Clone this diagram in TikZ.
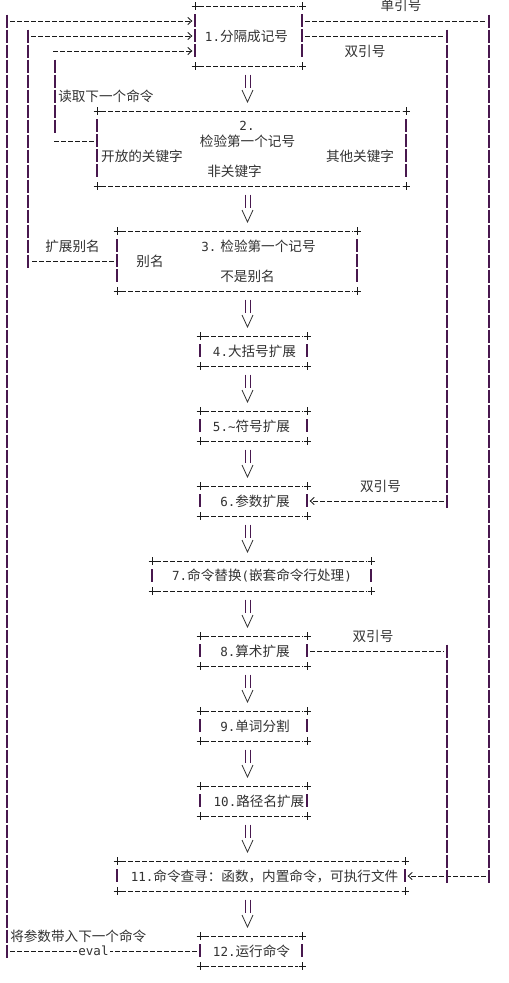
\documentclass[tikz,border=0pt]{standalone}
\usepackage{fontspec}
\setmainfont{Noto Sans CJK SC}
\newfontfamily\mono{DejaVu Sans Mono}
\usetikzlibrary{calc,arrows.meta}
\definecolor{vcol}{RGB}{72,24,78}
\definecolor{hcol}{RGB}{25,25,25}
\definecolor{tcol}{RGB}{50,50,50}
\newcommand\m[1]{{\fontsize{9.4pt}{12pt}\selectfont\mono #1}}
\tikzset{
 hd/.style={draw=hcol, line width=0.65pt, dash pattern=on 3.6pt off 1.65pt},
 vb/.style={draw=vcol, line width=0.85pt, dash pattern=on 9.75pt off 1.5pt},
 tip/.style={-{Straight Barb[length=3pt,width=5.5pt,line width=0.65pt]}, shorten >=2pt},
 pl/.style={draw=hcol, line width=0.65pt},
 vv/.style={draw=tcol, line width=0.6pt},
 bars/.style={draw=vcol, line width=0.75pt},
 boxn/.style={inner sep=0pt, outer sep=0pt, draw=none},
 lbl/.style={inner sep=0pt, text=tcol, font=\fontsize{10.2pt}{12pt}\selectfont},
}
\newcommand\abox[5]{%
 \node[boxn, minimum width={(#3-#2)*0.75pt}, minimum height={15*(#5-#4)*0.75pt}] (#1) at ({(#2+#3)/2},{6+7.5*(#4+#5)}) {};
 \draw[hd] ($(#1.north west)+(4,0)$) -- ($(#1.north east)+(-4,0)$);
 \draw[hd] ($(#1.south west)+(4,0)$) -- ($(#1.south east)+(-4,0)$);
 \draw[vb] ($(#1.north west)+(0,8)$) -- ($(#1.south west)+(0,-8)$);
 \draw[vb] ($(#1.north east)+(0,8)$) -- ($(#1.south east)+(0,-8)$);
 \foreach \cn in {north west,north east,south west,south east} {\draw[pl] (#1.\cn) +(-3.5,0) -- +(3.5,0) +(0,-4) -- +(0,4);}
}
\newcommand\vlink[2]{%
 \draw[bars] ($(#1.south -| AX)+(-2.5,8.5)$) -- ++(0,13) ($(#1.south -| AX)+(2.5,8.5)$) -- ++(0,13);
 \draw[vv] ($(#2.north -| AX)+(-5.5,-21)$) -- ($(#2.north -| AX)+(0,-9)$) -- ($(#2.north -| AX)+(5.5,-21)$);
}
\begin{document}
\begin{tikzpicture}[x=0.75pt,y=-0.75pt]
\useasboundingbox[fill=white] (0,0) rectangle (508,983);
\foreach \r in {0,...,64} {\coordinate (R\r) at (0,{6+15*\r});}
\coordinate (AX) at (247.5,0);
\coordinate (X7) at (7,0);
\coordinate (X28) at (28,0);
\coordinate (X55) at (55,0);
\coordinate (X447) at (447,0);
\coordinate (X489) at (489,0);
% boxes
\abox{b1}{195}{302}{0}{4}
\abox{b2}{97}{406}{7}{12}
\abox{b3}{117}{357}{15}{19}
\abox{b4}{200}{307}{22}{24}
\abox{b5}{200}{307}{27}{29}
\abox{b6}{200}{307}{32}{34}
\abox{b7}{152}{371}{37}{39}
\abox{b8}{200}{307}{42}{44}
\abox{b9}{200}{307}{47}{49}
\abox{b10}{200}{307}{52}{54}
\abox{b11}{117}{405}{57}{59}
\abox{b12}{200}{302}{62}{64}
% down links
\vlink{b1}{b2}
\vlink{b2}{b3}
\vlink{b3}{b4}
\vlink{b4}{b5}
\vlink{b5}{b6}
\vlink{b6}{b7}
\vlink{b7}{b8}
\vlink{b8}{b9}
\vlink{b9}{b10}
\vlink{b10}{b11}
\vlink{b11}{b12}
% left loops
\draw[hd,shorten <=2.5pt,shorten >=2.5pt] (b12.west |- R63) -- (X7 |- R63);
\draw[vb] ($(X7 |- R1)+(0,-6.5)$) -- ($(X7 |- R63)+(0,6.5)$);
\draw[hd,tip,shorten <=2.5pt] (X7 |- R1) -- (b1.west |- R1);
\draw[hd,shorten <=2.5pt,shorten >=2.5pt] (b3.west |- R17) -- (X28 |- R17);
\draw[vb] ($(X28 |- R2)+(0,-6.5)$) -- ($(X28 |- R17)+(0,6.5)$);
\draw[hd,tip,shorten <=2.5pt] (X28 |- R2) -- (b1.west |- R2);
\draw[hd,shorten <=2.5pt] (b2.west |- R9) -- ($(X55 |- R9)+(-1,0)$);
\draw[vb] ($(X55 |- R4)+(0,-6.5)$) -- ($(X55 |- R8)+(0,6.5)$);
\draw[hd,tip] ($(X55 |- R3)+(-2,0)$) -- (b1.west |- R3);
% right loops
\draw[hd,shorten <=2.5pt,shorten >=2.5pt] (b1.east |- R1) -- (X489 |- R1);
\draw[vb] ($(X489 |- R1)+(0,-6.5)$) -- ($(X489 |- R58)+(0,6.5)$);
\draw[hd,tip,shorten <=2.5pt] (X489 |- R58) -- (b11.east |- R58);
\draw[hd,shorten <=2.5pt,shorten >=2.5pt] (b1.east |- R2) -- (X447 |- R2);
\draw[vb] ($(X447 |- R2)+(0,-6.5)$) -- ($(X447 |- R33)+(0,6.5)$);
\draw[hd,tip,shorten <=2.5pt] (X447 |- R33) -- (b6.east |- R33);
\draw[hd,shorten <=2.5pt,shorten >=2.5pt] (b8.east |- R43) -- (X447 |- R43);
\draw[vb] ($(X447 |- R43)+(0,-6.5)$) -- ($(X447 |- R58)+(0,6.5)$);
% labels
\node[lbl] (l1) at (401,5) {单引号};
\node[lbl] (l2) at (365,51) {双引号};
\node[lbl,anchor=west] (l3) at (58,96) {读取下一个命令};
\node[lbl] (t1) at (246.5,36) {\m{1.}分隔成记号};
\node[lbl] (t2a) at (247,126) {\m{2.}};
\node[lbl] (t2b) at (247.5,141) {检验第一个记号};
\node[lbl] (t2c) at (142,156) {开放的关键字};
\node[lbl] (t2d) at (360,156) {其他关键字};
\node[lbl] (t2e) at (234.5,171) {非关键字};
\node[lbl] (l4) at (72.5,246) {扩展别名};
\node[lbl] (t3a) at (258.5,246) {\m{3.}\hspace{3pt}检验第一个记号};
\node[lbl] (t3b) at (150,261) {别名};
\node[lbl] (t3c) at (247.5,276) {不是别名};
\node[lbl] (t4) at (254.5,351) {\m{4.}大括号扩展};
\node[lbl] (t5) at (251.5,426) {\m{5.\textasciitilde}符号扩展};
\node[lbl] (l5) at (380.5,486) {双引号};
\node[lbl] (t6) at (255,501) {\m{6.}参数扩展};
\node[lbl] (t7) at (262,576) {\m{7.}命令替换\m{(}嵌套命令行处理\m{)}};
\node[lbl] (l6) at (373,636) {双引号};
\node[lbl] (t8) at (255,651) {\m{8.}算术扩展};
\node[lbl] (t9) at (255,726) {\m{9.}单词分割};
\node[lbl] (t10) at (259,801) {\m{10.}路径名扩展};
\node[lbl] (t11) at (264.5,876) {\m{11.}命令查寻：函数，内置命令，可执行文件};
\node[lbl,anchor=west] (l7) at (10,936) {将参数带入下一个命令};
\node[lbl] (t12) at (251.5,951) {\m{12.}运行命令};
\node[lbl,fill=white,inner xsep=1pt,inner ysep=1pt] (ev) at (93.5,951) {\m{eval}};
\end{tikzpicture}
\end{document}
